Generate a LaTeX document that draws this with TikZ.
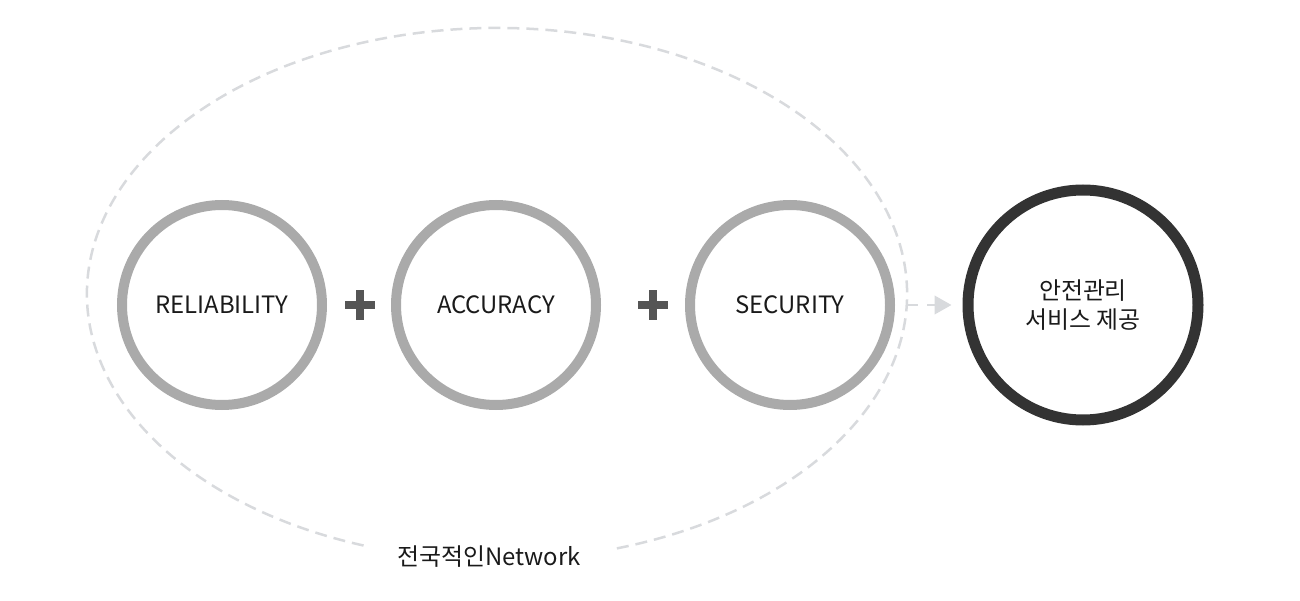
\documentclass[tikz,border=0pt]{standalone}
\usepackage{fontspec}
\setmainfont{Noto Sans CJK KR}
\usetikzlibrary{arrows.meta}
\definecolor{ringgray}{HTML}{AAAAAA}
\definecolor{ringdark}{HTML}{333333}
\definecolor{dashgray}{HTML}{D8DADD}
\definecolor{plusgray}{HTML}{555555}
\definecolor{textblack}{HTML}{1A1A1A}
\tikzset{
	ring/.style={circle, draw=ringgray, line width=0.2cm, minimum size=4cm, inner sep=0pt,
		font=\fontsize{13.6}{17}\selectfont, text=textblack},
	goal/.style={circle, draw=ringdark, line width=0.22cm, minimum size=4.6cm, inner sep=0pt,
		font=\fontsize{13.6}{17}\selectfont, text=textblack, align=center},
	plussign/.style={minimum size=0.6cm, inner sep=0pt,
		path picture={\fill[plusgray] ([xshift=-0.3cm,yshift=-0.085cm]path picture bounding box.center) rectangle ([xshift=0.3cm,yshift=0.085cm]path picture bounding box.center);
			\fill[plusgray] ([xshift=-0.085cm,yshift=-0.3cm]path picture bounding box.center) rectangle ([xshift=0.085cm,yshift=0.3cm]path picture bounding box.center);}},
	netline/.style={draw=dashgray, line width=0.05cm, dash pattern=on 0.24cm off 0.14cm},
	flow/.style={draw=dashgray, line width=0.05cm, dash pattern=on 0.2cm off 0.18cm,
		-{Triangle[length=0.34cm, width=0.37cm, fill=dashgray]}}
}
\begin{document}
\begin{tikzpicture}
	\useasboundingbox (0,0) rectangle (26,12);
	% network ellipse, open at the bottom for its label
	\draw[netline] (9.94,6.12) ++(-73:8.2cm and 5.32cm) arc[start angle=-73, end angle=252, x radius=8.2cm, y radius=5.32cm];
	\node[font=\fontsize{13.6}{17}\selectfont, text=textblack] (network) at (9.78,0.86) {전국적인Network};
	\node[ring] (reliability) at (4.44,5.9) {RELIABILITY};
	\node[ring] (accuracy) at (9.92,5.9) {ACCURACY};
	\node[ring] (security) at (15.8,5.9) {SECURITY};
	\node[plussign] (plus1) at (7.2,5.9) {};
	\node[plussign] (plus2) at (13.06,5.9) {};
	\node[goal] (service) at (21.66,5.9) {안전관리\\서비스 제공};
	\draw[flow, shorten <=0.26cm, shorten >=0.22cm] (security) -- (service);
\end{tikzpicture}
\end{document}
